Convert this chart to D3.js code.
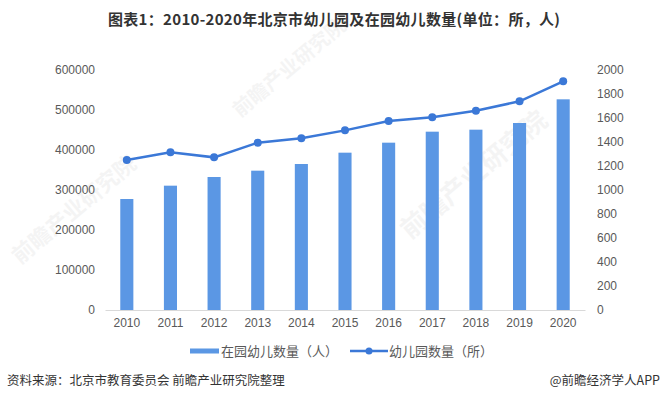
<!DOCTYPE html>
<html>
<head>
<meta charset="utf-8">
<script src="https://cdn.jsdelivr.net/npm/d3@7"></script>
<style>
  body { margin: 0; background: #fff; }
  svg { font-family: "Noto Sans CJK SC", "Noto Sans", sans-serif; }
</style>
</head>
<body>
<svg id="chart" width="665" height="399"></svg>
<script>
// data
const years = ["2010", "2011", "2012", "2013", "2014", "2015", "2016", "2017", "2018", "2019", "2020"];
const children = [277500, 310800, 332500, 348300, 365000, 393300, 418300, 445800, 450800, 467500, 526700];
const kindergartens = [1250, 1314, 1272, 1394, 1431, 1497, 1575, 1606, 1661, 1739, 1906];
const leftTicks = [0, 100000, 200000, 300000, 400000, 500000, 600000];
const rightTicks = [0, 200, 400, 600, 800, 1000, 1200, 1400, 1600, 1800, 2000];

const barColor = "#5b97e4";
const lineColor = "#3b78d7";
const axisText = "#595959";

const svg = d3.select("#chart");
const margin = { top: 70, left: 105, right: 80, bottom: 89 };
const width = 665 - margin.left - margin.right;
const height = 399 - margin.top - margin.bottom;

svg.append("rect").attr("width", 665).attr("height", 399).attr("fill", "#fff");

// faint watermarks
const marks = [[20, 265, 22], [240, 118, 20], [410, 240, 26]];
marks.forEach(([x, y, s]) => {
  svg.append("text")
    .attr("transform", `translate(${x},${y}) rotate(-40)`)
    .attr("font-size", s)
    .attr("font-weight", "bold")
    .attr("fill", "#000")
    .attr("opacity", 0.04)
    .text("前瞻产业研究院");
});

svg.append("text")
  .attr("x", 334)
  .attr("y", 25)
  .attr("text-anchor", "middle")
  .attr("font-size", 15)
  .attr("font-weight", "bold")
  .attr("fill", "#333")
  .attr("textLength", 452)
  .text("图表1：2010-2020年北京市幼儿园及在园幼儿数量(单位：所，人)");

const g = svg.append("g").attr("transform", `translate(${margin.left},${margin.top})`);

const x = d3.scaleBand().domain(years).range([0, width]).paddingInner(0.7).paddingOuter(0.35);
const yLeft = d3.scaleLinear().domain([0, 600000]).range([height, 0]);
const yRight = d3.scaleLinear().domain([0, 2000]).range([height, 0]);

// bars
g.selectAll(".bar")
  .data(children)
  .enter()
  .append("rect")
  .attr("class", "bar")
  .attr("x", (d, i) => x(years[i]))
  .attr("y", d => yLeft(d))
  .attr("width", x.bandwidth())
  .attr("height", d => height - yLeft(d))
  .attr("fill", barColor);

// x axis
const xAxis = g.append("g")
  .attr("transform", `translate(0,${height})`)
  .call(d3.axisBottom(x).tickSize(0).tickPadding(8));
xAxis.select(".domain").attr("stroke", "#d9d9d9");
xAxis.selectAll("text").attr("font-size", 12).attr("fill", axisText);

// left axis
const yAxisL = g.append("g")
  .call(d3.axisLeft(yLeft).tickValues(leftTicks).tickSize(0).tickPadding(10).tickFormat(d3.format("d")));
yAxisL.select(".domain").remove();
yAxisL.selectAll("text").attr("font-size", 12).attr("fill", axisText);

// right axis
const yAxisR = g.append("g")
  .attr("transform", `translate(${width},0)`)
  .call(d3.axisRight(yRight).tickValues(rightTicks).tickSize(0).tickPadding(12).tickFormat(d3.format("d")));
yAxisR.select(".domain").remove();
yAxisR.selectAll("text").attr("font-size", 12).attr("fill", axisText);

// line
const line = d3.line()
  .x((d, i) => x(years[i]) + x.bandwidth() / 2)
  .y(d => yRight(d));

g.append("path")
  .datum(kindergartens)
  .attr("d", line)
  .attr("fill", "none")
  .attr("stroke", lineColor)
  .attr("stroke-width", 2.5);

g.selectAll(".dot")
  .data(kindergartens)
  .enter()
  .append("circle")
  .attr("cx", (d, i) => x(years[i]) + x.bandwidth() / 2)
  .attr("cy", d => yRight(d))
  .attr("r", 4)
  .attr("fill", lineColor);

// legend
const legend = svg.append("g").attr("transform", "translate(0,351)");
legend.append("rect").attr("x", 190).attr("y", -2.5).attr("width", 29).attr("height", 5).attr("fill", barColor);
legend.append("text").attr("x", 221).attr("y", 5).attr("font-size", 13).attr("fill", axisText).text("在园幼儿数量（人）");
legend.append("line").attr("x1", 350).attr("x2", 388).attr("y1", 0).attr("y2", 0).attr("stroke", lineColor).attr("stroke-width", 2.5);
legend.append("circle").attr("cx", 369).attr("cy", 0).attr("r", 3.5).attr("fill", lineColor);
legend.append("text").attr("x", 389).attr("y", 5).attr("font-size", 13).attr("fill", axisText).text("幼儿园数量（所）");

// footer
svg.append("text").attr("x", 7).attr("y", 385).attr("font-size", 12.5).attr("fill", "#333")
  .text("资料来源：北京市教育委员会 前瞻产业研究院整理");
svg.append("text").attr("x", 660).attr("y", 385).attr("text-anchor", "end").attr("font-size", 12.5).attr("fill", "#333")
  .text("@前瞻经济学人APP");
</script>
</body>
</html>
